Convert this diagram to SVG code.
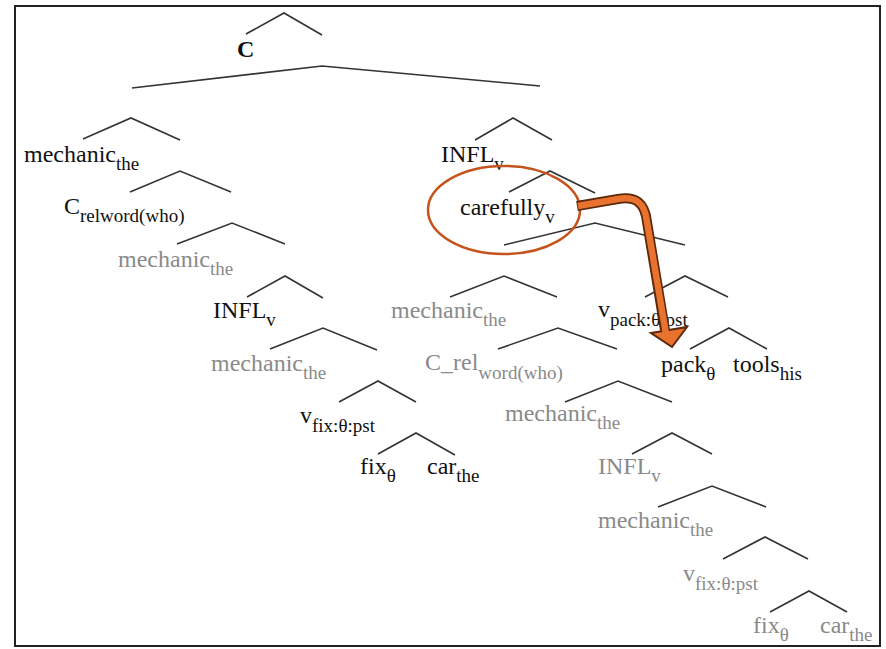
<svg xmlns="http://www.w3.org/2000/svg" width="886" height="649" viewBox="0 0 886 649">
  <style>
    text { font-family: "Liberation Serif", "Times New Roman", serif; font-size: 24px; }
    .k { fill: #111; }
    .g { fill: #8a8a8a; }
    .b { font-weight: bold; }
    .sub { font-size: 19px; }
    .br { fill: none; stroke: #333; stroke-width: 1.6; stroke-linejoin: miter; }
  </style>
  <rect x="0" y="0" width="886" height="649" fill="#fff"/>
  <rect x="15" y="6" width="865" height="640" fill="none" stroke="#222" stroke-width="2"/>

  <!-- tree branches -->
  <g id="connectors" class="br">
    <polyline points="246,34 284,13 322,35"/>
    <polyline points="132,88 322,66 540,86"/>
    <polyline points="83,139 131,118 180,140"/>
    <polyline points="130,192 180,171 231,192"/>
    <polyline points="177,244 232,223 285,244"/>
    <polyline points="247,297 285,276 323,298"/>
    <polyline points="270,349 323,328 377,350"/>
    <polyline points="339,402 378,381 416,402"/>
    <polyline points="378,454 416,433 455,455"/>
    <polyline points="475,140 513,118 552,140"/>
    <polyline points="509,192 550,171 595,193"/>
    <polyline points="504,245 595,223 685,245"/>
    <polyline points="450,297 504,276 557,297"/>
    <polyline points="645,297 685,276 728,297"/>
    <polyline points="498,349 558,328 617,349"/>
    <polyline points="690,349 729,328 767,349"/>
    <polyline points="565,402 618,381 672,402"/>
    <polyline points="632,454 672,433 712,454"/>
    <polyline points="658,507 712,486 766,507"/>
    <polyline points="723,559 765,537 808,559"/>
    <polyline points="770,612 809,591 847,612"/>
  </g>

  <!-- left branch -->
  <g id="n-c"><text class="k b" x="237" y="57">C</text></g>
  <g id="n-mech1"><text class="k" x="24" y="162">mechanic<tspan class="sub" dy="8">the</tspan></text></g>
  <g id="n-crel1"><text class="k" x="64" y="214">C<tspan class="sub" dy="8">relword(who)</tspan></text></g>
  <g id="n-mech2"><text class="g" x="118" y="267">mechanic<tspan class="sub" dy="8">the</tspan></text></g>
  <g id="n-infl1"><text class="k" x="213" y="318">INFL<tspan class="sub" dy="8">v</tspan></text></g>
  <g id="n-mech3"><text class="g" x="211" y="371">mechanic<tspan class="sub" dy="8">the</tspan></text></g>
  <g id="n-vfix1"><text class="k" x="300" y="423">v<tspan class="sub" dy="9">fix:θ:pst</tspan></text></g>
  <g id="n-fix1"><text class="k" x="360" y="474">fix<tspan class="sub" dy="8">θ</tspan></text></g>
  <g id="n-car1"><text class="k" x="427" y="474">car<tspan class="sub" dy="8">the</tspan></text></g>

  <!-- right branch -->
  <g id="n-infl2"><text class="k" x="441" y="162">INFL<tspan class="sub" dy="8">v</tspan></text></g>
  <g id="n-carefully"><text class="k" x="460" y="215">carefully<tspan class="sub" dy="8">v</tspan></text></g>
  <g id="n-mech4"><text class="g" x="391" y="318">mechanic<tspan class="sub" dy="8">the</tspan></text></g>
  <g id="n-vpack"><text class="k" x="598" y="317">v<tspan class="sub" dy="9">pack:θ:pst</tspan></text></g>
  <g id="n-crel2"><text class="g" x="425" y="370">C_rel<tspan class="sub" dy="9">word(who)</tspan></text></g>
  <g id="n-pack"><text class="k" x="661" y="372">pack<tspan class="sub" dy="8">θ</tspan></text></g>
  <g id="n-tools"><text class="k" x="733" y="372">tools<tspan class="sub" dy="8">his</tspan></text></g>
  <g id="n-mech5"><text class="g" x="505" y="421">mechanic<tspan class="sub" dy="8">the</tspan></text></g>
  <g id="n-infl3"><text class="g" x="598" y="474">INFL<tspan class="sub" dy="8">v</tspan></text></g>
  <g id="n-mech6"><text class="g" x="598" y="528">mechanic<tspan class="sub" dy="8">the</tspan></text></g>
  <g id="n-vfix2"><text class="g" x="683" y="581">v<tspan class="sub" dy="9">fix:θ:pst</tspan></text></g>
  <g id="n-fix2"><text class="g" x="753" y="633">fix<tspan class="sub" dy="8">θ</tspan></text></g>
  <g id="n-car2"><text class="g" x="820" y="633">car<tspan class="sub" dy="8">the</tspan></text></g>

  <!-- highlight of the adverb and the movement arrow -->
  <g id="highlight">
    <ellipse cx="504" cy="210" rx="76" ry="44" fill="none" stroke="#c4541c" stroke-width="2.5"/>
    <path d="M577,206 L618,199 C636,196 645,203 647,222 L665,330" fill="none" stroke="#5a280c" stroke-width="10"/>
    <polygon points="651,333 687,327 672,347" fill="#e8722e" stroke="#5a280c" stroke-width="2" stroke-linejoin="miter"/>
    <path d="M578,206 L618,199 C636,196 645,203 647,222 L666,334" fill="none" stroke="#e8722e" stroke-width="6.5"/>
  </g>
</svg>
